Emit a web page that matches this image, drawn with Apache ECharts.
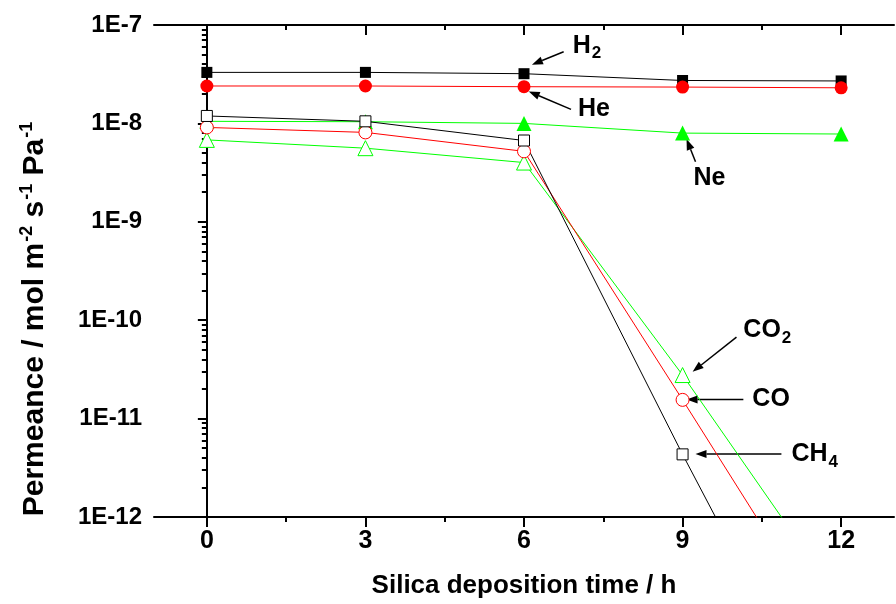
<!DOCTYPE html>
<html>
<head>
<meta charset="utf-8">
<script src="https://cdn.jsdelivr.net/npm/echarts@6/dist/echarts.min.js"></script>
<style>
  html, body { margin: 0; padding: 0; background: #fff; }
  #chart { width: 896px; height: 604px; }
</style>
</head>
<body>
<div id="chart"></div>
<script>
// Deposition time (h)
const hours = [0, 3, 6, 9, 12];

// Permeance (mol m-2 s-1 Pa-1) of each gas versus deposition time
const h2  = [3.3e-8, 3.3e-8, 3.2e-8, 2.73e-8, 2.7e-8];
const he  = [2.4e-8, 2.4e-8, 2.36e-8, 2.34e-8, 2.3e-8];
const ne  = [1.05e-8, 1.04e-8, 1.0e-8, 7.97e-9, 7.8e-9];
const ch4 = [1.19e-8, 1.05e-8, 6.7e-9, 4.33e-12, 3.7e-15];
const co  = [9.1e-9, 8.1e-9, 5.2e-9, 1.55e-11, 4.3e-14];
const co2 = [6.8e-9, 5.6e-9, 4.0e-9, 2.77e-11, 1.34e-13];

// Axis ticks
const xMajor = [0, 3, 6, 9, 12];
const xMinor = [-1.5, 1.5, 4.5, 7.5, 10.5];
const yMajor = [1e-12, 1e-11, 1e-10, 1e-9, 1e-8, 1e-7];
const yMinor = [];
for (let d = -12; d <= -8; d++) {
  for (let k = 2; k <= 9; k++) yMinor.push(Number((k * Math.pow(10, d)).toPrecision(3)));
}

// Gas labels with their arrows: [tail, head] and text anchor, in data units
const notes = [
  { text: '{m|H}{s|2}',  tail: [6.75, 5.35e-8], head: [6.15, 3.95e-8], at: [6.92, 6.17e-8], align: 'left' },
  { text: '{m|He}',      tail: [6.89, 1.39e-8], head: [6.09, 2.11e-8], at: [7.02, 1.39e-8], align: 'left' },
  { text: '{m|Ne}',      tail: [9.245, 4.07e-9], head: [9.075, 6.95e-9], at: [9.51, 2.75e-9], align: 'center' },
  { text: '{m|CO}{s|2}', tail: [10.02, 6.73e-11], head: [9.19, 2.99e-11], at: [10.15, 7.94e-11], align: 'left' },
  { text: '{m|CO}',      tail: [10.15, 1.56e-11], head: [9.075, 1.56e-11], at: [10.32, 1.56e-11], align: 'left' },
  { text: '{m|CH}{s|4}', tail: [10.87, 4.37e-12], head: [9.245, 4.37e-12], at: [11.06, 4.37e-12], align: 'left' }
];

const FONT = "'Liberation Sans Narrow', 'Arial Narrow', 'Liberation Sans', Arial, sans-serif";
const BLACK = '#000000', RED = '#ff0000', GREEN = '#00ff00';

function pairs(vals) { return hours.map((h, i) => [h, vals[i]]); }

function lineSeries(name, vals, color, symbol, size, filled) {
  return {
    name, type: 'line', data: pairs(vals), clip: true,
    symbol, symbolSize: size, showSymbol: true,
    lineStyle: { color, width: 1 },
    itemStyle: filled ? { color, borderColor: color, borderWidth: 0 }
                      : { color: '#ffffff', borderColor: color, borderWidth: 1 },
    emphasis: { disabled: true },
    animation: false
  };
}

const axisText = { fontFamily: FONT, fontWeight: 'bold', fontSize: 25, color: BLACK };
const axisLineStyle = { color: BLACK, width: 2 };

const chart = echarts.init(document.getElementById('chart'), null, { renderer: 'canvas' });

chart.setOption({
  backgroundColor: '#ffffff',
  animation: false,
  grid: { left: 154, top: 25, width: 740, height: 496, containLabel: false },
  xAxis: [
    {
      type: 'value', position: 'bottom', min: -1, max: 13,
      axisLine: { show: true, lineStyle: axisLineStyle },
      axisTick: { show: true, customValues: xMajor, length: 10, inside: false, lineStyle: { color: BLACK, width: 2 } },
      axisLabel: { customValues: xMajor, margin: 12, ...axisText },
      splitLine: { show: false },
      name: 'Silica deposition time / h', nameLocation: 'middle', nameGap: 56,
      nameTextStyle: { ...axisText, fontSize: 26 }
    },
    {
      type: 'value', position: 'bottom', min: -1, max: 13,
      axisLine: { show: false },
      axisTick: { show: true, customValues: xMinor, length: 5, inside: false, lineStyle: { color: BLACK, width: 2 } },
      axisLabel: { show: false }, splitLine: { show: false }
    },
    {
      type: 'value', position: 'top', min: -1, max: 13,
      axisLine: { show: true, lineStyle: axisLineStyle },
      axisTick: { show: true, customValues: xMajor, length: 10, inside: true, lineStyle: { color: BLACK, width: 2 } },
      axisLabel: { show: false }, splitLine: { show: false }
    },
    {
      type: 'value', position: 'top', min: -1, max: 13,
      axisLine: { show: false },
      axisTick: { show: true, customValues: xMinor, length: 5, inside: true, lineStyle: { color: BLACK, width: 2 } },
      axisLabel: { show: false }, splitLine: { show: false }
    }
  ],
  yAxis: [
    {
      type: 'log', logBase: 10, position: 'left', min: 1e-12, max: 1e-7,
      axisLine: { show: true, lineStyle: axisLineStyle },
      axisTick: { show: true, customValues: yMajor, length: 9, inside: false, lineStyle: { color: BLACK, width: 2 } },
      axisLabel: {
        customValues: yMajor, margin: 12, ...axisText, fontSize: 24,
        formatter: v => '1E' + Math.round(Math.log10(v))
      },
      splitLine: { show: false },
      name: '{a|Permeance / mol m}{s|-2}{a| s}{s|-1}{a| Pa}{s|-1}',
      nameLocation: 'middle', nameGap: 102,
      nameTextStyle: {
        // right padding moves the rotated title down along the axis
        padding: [0, 96, 0, 0],
        rich: {
          a: { ...axisText, fontSize: 30 },
          s: { ...axisText, fontSize: 18, padding: [0, 0, 16, 1] }
        }
      }
    },
    {
      type: 'log', logBase: 10, position: 'left', min: 1e-12, max: 1e-7,
      axisLine: { show: false },
      axisTick: { show: true, customValues: yMinor, length: 5, inside: false, lineStyle: { color: BLACK, width: 2 } },
      axisLabel: { show: false }, splitLine: { show: false }
    },
    {
      type: 'log', logBase: 10, position: 'right', min: 1e-12, max: 1e-7,
      axisLine: { show: true, lineStyle: axisLineStyle },
      axisTick: { show: true, customValues: yMajor, length: 9, inside: true, lineStyle: { color: BLACK, width: 2 } },
      axisLabel: { show: false }, splitLine: { show: false }
    },
    {
      type: 'log', logBase: 10, position: 'right', min: 1e-12, max: 1e-7,
      axisLine: { show: false },
      axisTick: { show: true, customValues: yMinor, length: 5, inside: true, lineStyle: { color: BLACK, width: 2 } },
      axisLabel: { show: false }, splitLine: { show: false }
    }
  ],
  series: [
    lineSeries('Ne', ne, GREEN, 'triangle', 15, true),
    lineSeries('H2', h2, BLACK, 'rect', 11, true),
    lineSeries('He', he, RED, 'circle', 13, true),
    lineSeries('CO2', co2, GREEN, 'triangle', 15, false),
    lineSeries('CO', co, RED, 'circle', 13, false),
    lineSeries('CH4', ch4, BLACK, 'rect', 11, false)
  ]
});

// Gas labels and arrows, placed through the chart's own coordinate system
const toPx = p => chart.convertToPixel({ xAxisIndex: 0, yAxisIndex: 0 }, p);
const elements = [];
notes.forEach(n => {
  const t = toPx(n.tail), h = toPx(n.head), a = toPx(n.at);
  const ang = Math.atan2(h[1] - t[1], h[0] - t[0]);
  const L = 11, W = 4;
  const bx = h[0] - L * Math.cos(ang), by = h[1] - L * Math.sin(ang);
  elements.push({
    type: 'line', silent: true,
    shape: { x1: t[0], y1: t[1], x2: bx, y2: by },
    style: { stroke: BLACK, lineWidth: 1.5 }
  });
  elements.push({
    type: 'polygon', silent: true,
    shape: { points: [
      [h[0], h[1]],
      [bx + W * Math.sin(ang), by - W * Math.cos(ang)],
      [bx - W * Math.sin(ang), by + W * Math.cos(ang)]
    ] },
    style: { fill: BLACK }
  });
  elements.push({
    type: 'text', silent: true, x: a[0], y: a[1],
    style: {
      text: n.text, align: n.align, verticalAlign: 'middle',
      rich: {
        m: { fontFamily: FONT, fontWeight: 'bold', fontSize: 25, fill: BLACK, lineHeight: 26 },
        s: { fontFamily: FONT, fontWeight: 'bold', fontSize: 17, fill: BLACK, padding: [16, 0, 0, 1], lineHeight: 17 }
      }
    }
  });
});
chart.setOption({ graphic: { elements } });
</script>
</body>
</html>
